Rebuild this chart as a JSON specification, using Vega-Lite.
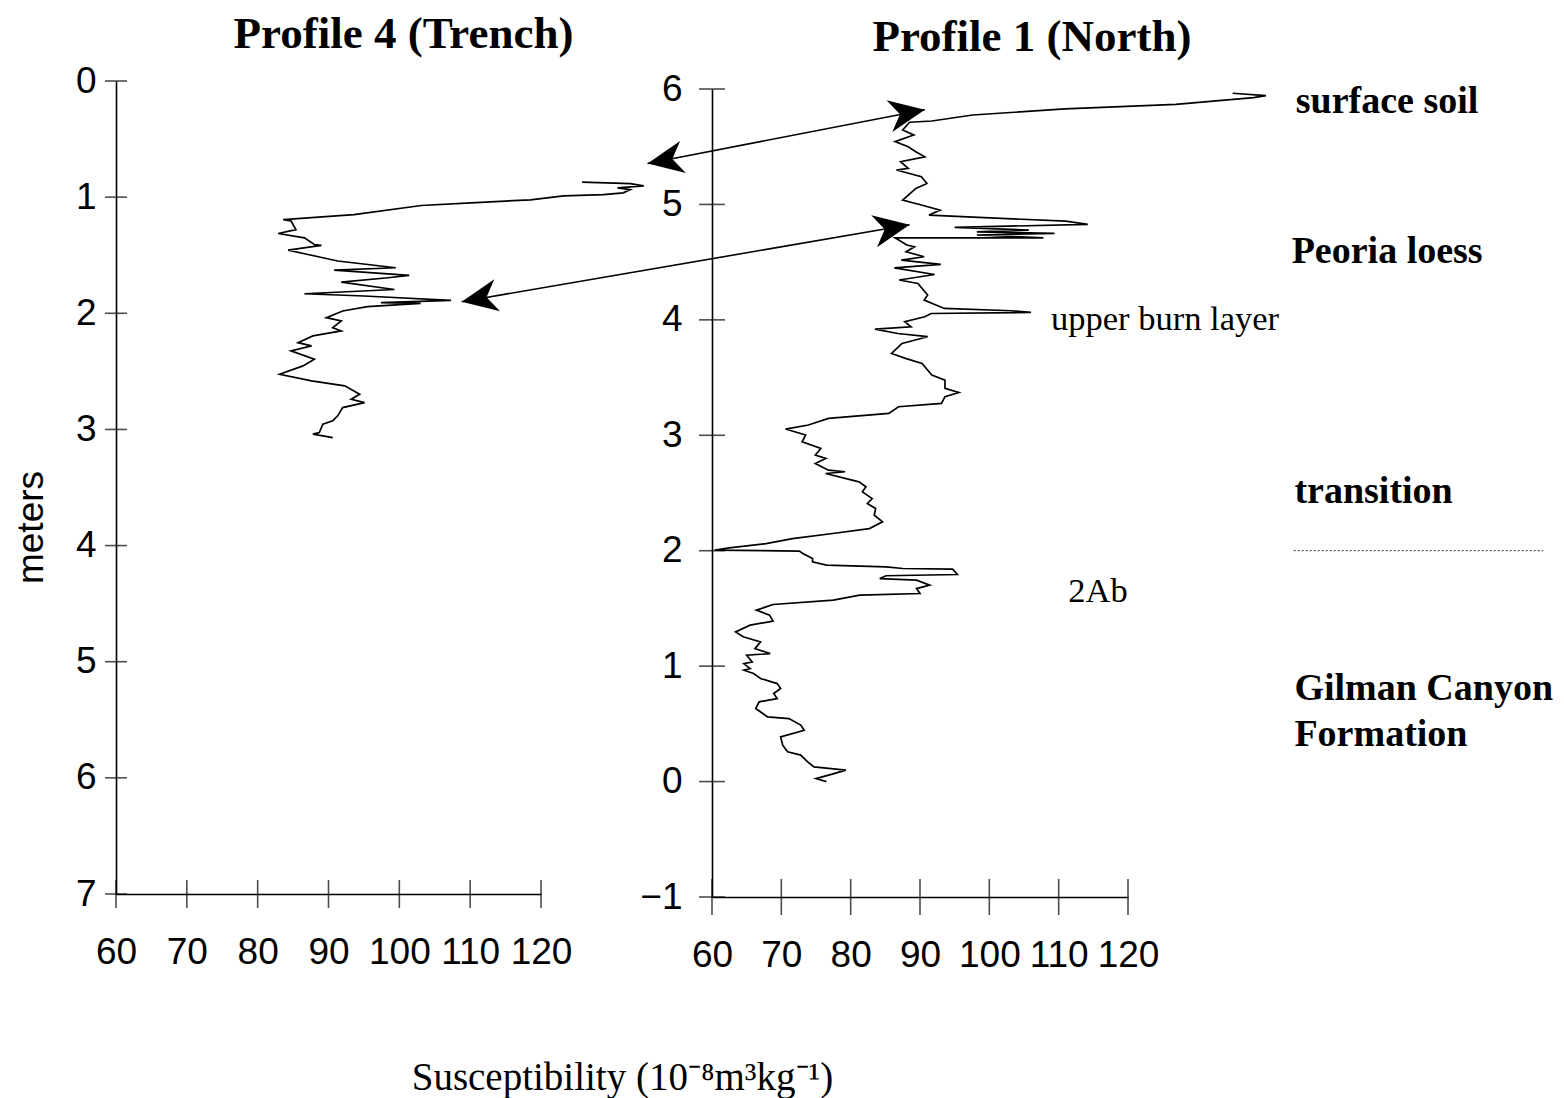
{
  "$schema": "https://vega.github.io/schema/vega-lite/v6.json",
  "background": "white",
  "padding": {"left": 12, "top": 12, "right": 5, "bottom": 5},
  "config": {"view": {"stroke": null}, "font": "Liberation Sans"},
  "bounds": "flush",
  "spacing": 171,
  "datasets": {
    "p4": [
      {"i":1,"x":125.8,"d":0.871},{"i":2,"x":132.6,"d":0.883},{"i":3,"x":134.5,"d":0.903},{"i":4,"x":130.8,"d":0.920},{"i":5,"x":132.6,"d":0.935},{"i":6,"x":131.6,"d":0.963},{"i":7,"x":128.8,"d":0.978},{"i":8,"x":123.2,"d":0.989},{"i":9,"x":118.5,"d":1.023},{"i":10,"x":110.1,"d":1.049},{"i":11,"x":103.1,"d":1.072},{"i":12,"x":93.6,"d":1.150},{"i":13,"x":83.6,"d":1.193},{"i":14,"x":84.7,"d":1.204},{"i":15,"x":85.4,"d":1.279},{"i":16,"x":82.9,"d":1.313},{"i":17,"x":86.6,"d":1.350},{"i":18,"x":88.0,"d":1.408},{"i":19,"x":89.0,"d":1.416},{"i":20,"x":84.3,"d":1.456},{"i":21,"x":87.1,"d":1.494},{"i":22,"x":91.3,"d":1.550},{"i":23,"x":99.5,"d":1.608},{"i":24,"x":90.8,"d":1.628},{"i":25,"x":101.4,"d":1.674},{"i":26,"x":98.4,"d":1.694},{"i":27,"x":91.8,"d":1.731},{"i":28,"x":99.3,"d":1.795},{"i":29,"x":86.6,"d":1.832},{"i":30,"x":95.0,"d":1.851},{"i":31,"x":107.3,"d":1.889},{"i":32,"x":97.4,"d":1.909},{"i":33,"x":103.0,"d":1.915},{"i":34,"x":95.5,"d":1.943},{"i":35,"x":92.0,"d":1.980},{"i":36,"x":89.7,"d":2.038},{"i":37,"x":91.8,"d":2.066},{"i":38,"x":90.6,"d":2.124},{"i":39,"x":91.8,"d":2.152},{"i":40,"x":87.8,"d":2.195},{"i":41,"x":85.7,"d":2.253},{"i":42,"x":87.6,"d":2.281},{"i":43,"x":84.7,"d":2.324},{"i":44,"x":88.0,"d":2.396},{"i":45,"x":86.4,"d":2.453},{"i":46,"x":83.1,"d":2.525},{"i":47,"x":87.6,"d":2.582},{"i":48,"x":92.3,"d":2.625},{"i":49,"x":94.4,"d":2.697},{"i":50,"x":93.2,"d":2.740},{"i":51,"x":95.1,"d":2.769},{"i":52,"x":92.0,"d":2.812},{"i":53,"x":91.3,"d":2.883},{"i":54,"x":90.6,"d":2.926},{"i":55,"x":89.2,"d":2.955},{"i":56,"x":88.7,"d":3.027},{"i":57,"x":87.8,"d":3.041},{"i":58,"x":90.6,"d":3.070}
    ],
    "p1": [
      {"i":1,"x":135.1,"y":5.963},{"i":2,"x":139.9,"y":5.942},{"i":3,"x":138.1,"y":5.925},{"i":4,"x":126.9,"y":5.867},{"i":5,"x":110.9,"y":5.827},{"i":6,"x":97.6,"y":5.775},{"i":7,"x":91.7,"y":5.723},{"i":8,"x":88.5,"y":5.712},{"i":9,"x":87.5,"y":5.645},{"i":10,"x":89.1,"y":5.602},{"i":11,"x":86.4,"y":5.544},{"i":12,"x":88.3,"y":5.500},{"i":13,"x":89.4,"y":5.457},{"i":14,"x":90.7,"y":5.413},{"i":15,"x":87.2,"y":5.370},{"i":16,"x":88.3,"y":5.312},{"i":17,"x":86.6,"y":5.298},{"i":18,"x":90.2,"y":5.240},{"i":19,"x":91.0,"y":5.182},{"i":20,"x":89.4,"y":5.139},{"i":21,"x":88.6,"y":5.095},{"i":22,"x":87.5,"y":5.038},{"i":23,"x":90.2,"y":4.995},{"i":24,"x":92.9,"y":4.951},{"i":25,"x":91.3,"y":4.908},{"i":26,"x":99.3,"y":4.885},{"i":27,"x":111.0,"y":4.856},{"i":28,"x":114.2,"y":4.827},{"i":29,"x":95.0,"y":4.801},{"i":30,"x":105.7,"y":4.778},{"i":31,"x":98.2,"y":4.763},{"i":32,"x":109.4,"y":4.749},{"i":33,"x":98.2,"y":4.735},{"i":34,"x":107.8,"y":4.711},{"i":35,"x":86.4,"y":4.711},{"i":36,"x":88.1,"y":4.648},{"i":37,"x":89.2,"y":4.633},{"i":38,"x":88.0,"y":4.590},{"i":39,"x":90.6,"y":4.547},{"i":40,"x":87.3,"y":4.518},{"i":41,"x":93.0,"y":4.480},{"i":42,"x":86.3,"y":4.451},{"i":43,"x":92.1,"y":4.393},{"i":44,"x":87.0,"y":4.345},{"i":45,"x":89.7,"y":4.315},{"i":46,"x":91.1,"y":4.215},{"i":47,"x":90.6,"y":4.172},{"i":48,"x":93.5,"y":4.099},{"i":49,"x":103.1,"y":4.079},{"i":50,"x":106.0,"y":4.064},{"i":51,"x":91.6,"y":4.055},{"i":52,"x":90.7,"y":4.027},{"i":53,"x":87.8,"y":3.984},{"i":54,"x":88.7,"y":3.940},{"i":55,"x":83.5,"y":3.920},{"i":56,"x":86.8,"y":3.882},{"i":57,"x":91.1,"y":3.854},{"i":58,"x":87.4,"y":3.796},{"i":59,"x":85.9,"y":3.709},{"i":60,"x":87.9,"y":3.666},{"i":61,"x":90.3,"y":3.622},{"i":62,"x":91.7,"y":3.522},{"i":63,"x":93.6,"y":3.478},{"i":64,"x":93.6,"y":3.406},{"i":65,"x":95.6,"y":3.371},{"i":66,"x":93.6,"y":3.334},{"i":67,"x":93.1,"y":3.276},{"i":68,"x":86.9,"y":3.247},{"i":69,"x":85.5,"y":3.189},{"i":70,"x":76.8,"y":3.146},{"i":71,"x":73.9,"y":3.089},{"i":72,"x":70.6,"y":3.054},{"i":73,"x":73.5,"y":3.002},{"i":74,"x":73.0,"y":2.944},{"i":75,"x":75.7,"y":2.886},{"i":76,"x":74.9,"y":2.828},{"i":77,"x":76.4,"y":2.799},{"i":78,"x":74.9,"y":2.756},{"i":79,"x":76.8,"y":2.698},{"i":80,"x":79.2,"y":2.684},{"i":81,"x":76.4,"y":2.669},{"i":82,"x":81.2,"y":2.597},{"i":83,"x":82.2,"y":2.554},{"i":84,"x":81.7,"y":2.510},{"i":85,"x":83.1,"y":2.452},{"i":86,"x":82.4,"y":2.409},{"i":87,"x":83.6,"y":2.366},{"i":88,"x":83.4,"y":2.308},{"i":89,"x":84.6,"y":2.250},{"i":90,"x":82.7,"y":2.192},{"i":91,"x":77.4,"y":2.149},{"i":92,"x":71.6,"y":2.105},{"i":93,"x":67.8,"y":2.062},{"i":94,"x":62.5,"y":2.025},{"i":95,"x":60.4,"y":2.005},{"i":96,"x":72.6,"y":1.997},{"i":97,"x":73.1,"y":1.976},{"i":98,"x":74.5,"y":1.932},{"i":99,"x":74.5,"y":1.904},{"i":100,"x":76.5,"y":1.875},{"i":101,"x":85.1,"y":1.860},{"i":102,"x":87.5,"y":1.846},{"i":103,"x":94.7,"y":1.841},{"i":104,"x":95.4,"y":1.794},{"i":105,"x":85.1,"y":1.783},{"i":106,"x":84.2,"y":1.759},{"i":107,"x":89.5,"y":1.745},{"i":108,"x":91.4,"y":1.702},{"i":109,"x":89.5,"y":1.672},{"i":110,"x":90.0,"y":1.629},{"i":111,"x":81.3,"y":1.615},{"i":112,"x":77.5,"y":1.572},{"i":113,"x":68.8,"y":1.534},{"i":114,"x":66.4,"y":1.485},{"i":115,"x":68.3,"y":1.442},{"i":116,"x":68.8,"y":1.390},{"i":117,"x":65.5,"y":1.355},{"i":118,"x":63.4,"y":1.297},{"i":119,"x":64.5,"y":1.254},{"i":120,"x":67.0,"y":1.210},{"i":121,"x":66.2,"y":1.152},{"i":122,"x":68.4,"y":1.109},{"i":123,"x":65.0,"y":1.095},{"i":124,"x":65.8,"y":1.037},{"i":125,"x":64.6,"y":1.022},{"i":126,"x":65.5,"y":0.979},{"i":127,"x":64.6,"y":0.965},{"i":128,"x":66.0,"y":0.936},{"i":129,"x":67.0,"y":0.893},{"i":130,"x":69.4,"y":0.849},{"i":131,"x":69.9,"y":0.806},{"i":132,"x":68.9,"y":0.763},{"i":133,"x":69.4,"y":0.719},{"i":134,"x":66.8,"y":0.691},{"i":135,"x":66.3,"y":0.633},{"i":136,"x":68.0,"y":0.561},{"i":137,"x":71.1,"y":0.546},{"i":138,"x":72.8,"y":0.489},{"i":139,"x":73.3,"y":0.445},{"i":140,"x":69.9,"y":0.387},{"i":141,"x":70.2,"y":0.315},{"i":142,"x":70.9,"y":0.258},{"i":143,"x":72.8,"y":0.229},{"i":144,"x":73.8,"y":0.171},{"i":145,"x":74.7,"y":0.127},{"i":146,"x":79.3,"y":0.099},{"i":147,"x":77.6,"y":0.069},{"i":148,"x":75.0,"y":0.026},{"i":149,"x":76.5,"y":0.000}
    ],
    "arrows": [
      {"a":1,"end":"L","x":50.7,"y":5.355},{"a":1,"end":"R","x":90.7,"y":5.821},
      {"a":2,"end":"L","x":23.9,"y":4.157},{"a":2,"end":"R","x":88.5,"y":4.824}
    ],
    "zones": [
      {"label":"surface soil","x":144.2,"y":5.89},
      {"label":"Peoria loess","x":143.6,"y":4.59},
      {"label":"transition","x":144.0,"y":2.51},
      {"label":"Gilman Canyon","x":144.0,"y":0.80},
      {"label":"Formation","x":144.0,"y":0.40}
    ],
    "notes": [
      {"label":"upper burn layer","x":108.9,"y":4.00},
      {"label":"2Ab","x":111.4,"y":1.64}
    ],
    "xlabel": [{"label":"Susceptibility (10⁻⁸m³kg⁻¹)","x":131.5,"d":8.58}],
    "sep": [{"x":143.9,"x2":179.9,"y":2.0}],
    "xt": [{"x":60},{"x":70},{"x":80},{"x":90},{"x":100},{"x":110},{"x":120}],
    "yl": [{"d":0},{"d":1},{"d":2},{"d":3},{"d":4},{"d":5},{"d":6},{"d":7}],
    "yr": [{"y":-1},{"y":0},{"y":1},{"y":2},{"y":3},{"y":4},{"y":5},{"y":6}]
  },
  "hconcat": [
    {
      "width": 425,
      "height": 813,
      "title": {"text": "Profile 4 (Trench)", "anchor": "middle", "dx": 75, "offset": 5, "font": "Liberation Serif", "fontSize": 45, "fontWeight": "bold", "color": "black"},
      "layer": [
        {
          "data": {"name": "p4"},
          "mark": {"type": "line", "color": "black", "strokeWidth": 1.7},
          "encoding": {
            "x": {"field": "x", "type": "quantitative", "scale": {"domain": [60, 120], "nice": false, "zero": false},
                  "axis": {"values": [60,70,80,90,100,110,120], "format": "d", "ticks": false, "grid": false, "title": null, "domainColor": "black", "domainWidth": 1.6, "labelFont": "Liberation Sans", "labelFontSize": 37, "labelColor": "black", "labelPadding": 40, "labelFlush": false}},
            "y": {"field": "d", "type": "quantitative", "scale": {"domain": [0, 7], "reverse": true, "nice": false, "zero": false},
                  "axis": {"values": [0,1,2,3,4,5,6,7], "format": "d", "ticks": false, "grid": false, "title": "meters", "titleFont": "Liberation Sans", "titleFontSize": 37, "titleFontWeight": "normal", "titleColor": "black", "titleAngle": -90, "titleBaseline": "alphabetic", "titleX": -74, "titleY": 446, "domainColor": "black", "domainWidth": 1.6, "labelFont": "Liberation Sans", "labelFontSize": 37, "labelColor": "black", "labelPadding": 20, "labelFlush": false}},
            "order": {"field": "i", "type": "quantitative"}
          }
        },
        {
          "data": {"name": "xt"},
          "mark": {"type": "tick", "orient": "vertical", "color": "black", "size": 28, "thickness": 1.6},
          "encoding": {"x": {"field": "x", "type": "quantitative"}, "y": {"datum": 7}}
        },
        {
          "data": {"name": "yl"},
          "mark": {"type": "tick", "orient": "horizontal", "color": "black", "size": 22, "thickness": 1.6},
          "encoding": {"y": {"field": "d", "type": "quantitative"}, "x": {"datum": 60}}
        },
        {
          "data": {"name": "xlabel"},
          "mark": {"type": "text", "align": "center", "baseline": "middle", "font": "Liberation Serif", "fontSize": 39, "fontWeight": "normal", "color": "black"},
          "encoding": {"x": {"field": "x", "type": "quantitative"}, "y": {"field": "d", "type": "quantitative"}, "text": {"field": "label"}}
        }
      ]
    },
    {
      "width": 416,
      "height": 816,
      "title": {"text": "Profile 1 (North)", "anchor": "middle", "dx": 112, "offset": 10, "font": "Liberation Serif", "fontSize": 45, "fontWeight": "bold", "color": "black"},
      "layer": [
        {
          "data": {"name": "p1"},
          "mark": {"type": "line", "color": "black", "strokeWidth": 1.7},
          "encoding": {
            "x": {"field": "x", "type": "quantitative", "scale": {"domain": [60, 120], "nice": false, "zero": false},
                  "axis": {"values": [60,70,80,90,100,110,120], "format": "d", "ticks": false, "grid": false, "title": null, "domainColor": "black", "domainWidth": 1.6, "labelFont": "Liberation Sans", "labelFontSize": 37, "labelColor": "black", "labelPadding": 40, "labelFlush": false}},
            "y": {"field": "y", "type": "quantitative", "scale": {"domain": [-1, 6], "range": [816, 8], "nice": false, "zero": false},
                  "axis": {"values": [-1,0,1,2,3,4,5,6], "format": "d", "ticks": false, "grid": false, "title": null, "domainColor": "black", "domainWidth": 1.6, "labelFont": "Liberation Sans", "labelFontSize": 37, "labelColor": "black", "labelPadding": 30, "labelFlush": false}},
            "order": {"field": "i", "type": "quantitative"}
          }
        },
        {
          "data": {"name": "xt"},
          "mark": {"type": "tick", "orient": "vertical", "color": "black", "size": 36, "thickness": 1.6},
          "encoding": {"x": {"field": "x", "type": "quantitative"}, "y": {"datum": -1}}
        },
        {
          "data": {"name": "yr"},
          "mark": {"type": "tick", "orient": "horizontal", "color": "black", "size": 26, "thickness": 1.6},
          "encoding": {"y": {"field": "y", "type": "quantitative"}, "x": {"datum": 60}}
        },
        {
          "data": {"name": "arrows"},
          "mark": {"type": "line", "color": "black", "strokeWidth": 1.6},
          "encoding": {"x": {"field": "x", "type": "quantitative"}, "y": {"field": "y", "type": "quantitative"}, "detail": {"field": "a", "type": "nominal"}}
        },
        {
          "data": {"name": "arrows"},
          "transform": [{"filter": "datum.end === 'R'"}],
          "mark": {"type": "point", "shape": "M0,0 L-2,-0.9 L-1.4,0 L-2,0.9 Z", "filled": true, "color": "black", "size": 1300, "angle": -10.3, "opacity": 1},
          "encoding": {"x": {"field": "x", "type": "quantitative"}, "y": {"field": "y", "type": "quantitative"}}
        },
        {
          "data": {"name": "arrows"},
          "transform": [{"filter": "datum.end === 'L'"}],
          "mark": {"type": "point", "shape": "M0,0 L-2,-0.9 L-1.4,0 L-2,0.9 Z", "filled": true, "color": "black", "size": 1300, "angle": 169.7, "opacity": 1},
          "encoding": {"x": {"field": "x", "type": "quantitative"}, "y": {"field": "y", "type": "quantitative"}}
        },
        {
          "data": {"name": "zones"},
          "mark": {"type": "text", "align": "left", "baseline": "middle", "font": "Liberation Serif", "fontSize": 38, "fontWeight": "bold", "color": "black"},
          "encoding": {"x": {"field": "x", "type": "quantitative"}, "y": {"field": "y", "type": "quantitative"}, "text": {"field": "label"}}
        },
        {
          "data": {"name": "notes"},
          "mark": {"type": "text", "align": "left", "baseline": "middle", "font": "Liberation Serif", "fontSize": 34.5, "fontWeight": "normal", "color": "black"},
          "encoding": {"x": {"field": "x", "type": "quantitative"}, "y": {"field": "y", "type": "quantitative"}, "text": {"field": "label"}}
        },
        {
          "data": {"name": "sep"},
          "mark": {"type": "rule", "color": "#555555", "strokeWidth": 1.2, "strokeDash": [2, 2]},
          "encoding": {"x": {"field": "x", "type": "quantitative"}, "x2": {"field": "x2"}, "y": {"field": "y", "type": "quantitative"}}
        }
      ]
    }
  ]
}
